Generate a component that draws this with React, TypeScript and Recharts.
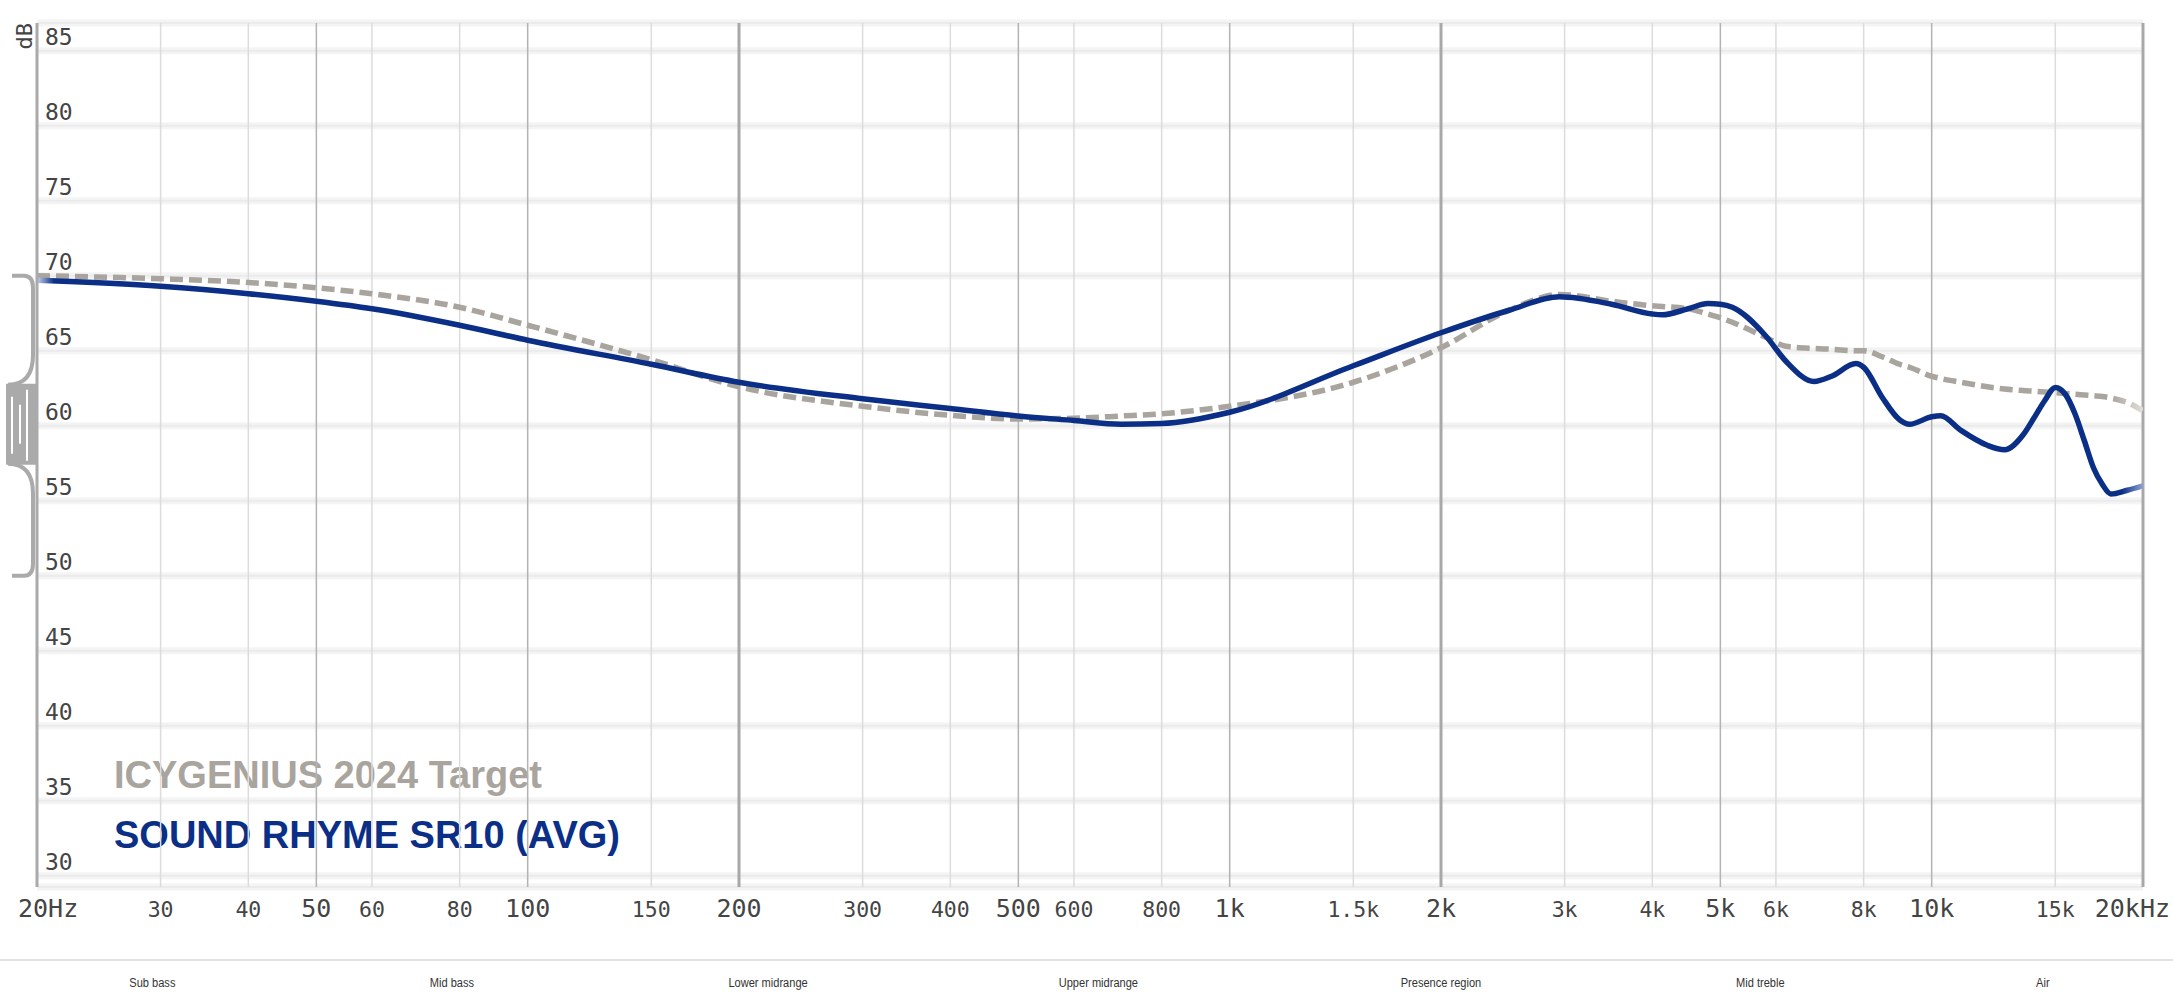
import { LineChart, Line, XAxis, YAxis, CartesianGrid, ReferenceLine, Customized } from "recharts";

const FREQS = [
  20, 30, 40, 50, 60, 80, 100, 150, 200, 300, 400, 500, 600, 700, 800, 1000, 1500, 2000, 2500, 2950, 3500, 4000,
  4130, 4500, 4800, 5000, 5200, 5800, 6200, 6800, 7200, 7800, 8000, 8500, 9000, 9300, 10000, 10300, 11000, 12000,
  12700, 13500, 14000, 14500, 15000, 15500, 16000, 16500, 17000, 17500, 18000, 19000, 20000,
];

const TARGET_DB = [
  70.0, 69.8, 69.55, 69.2, 68.8, 67.9, 66.7, 64.4, 62.6, 61.3, 60.7, 60.45, 60.5, 60.65, 60.8, 61.3, 62.9, 65.2, 67.7,
  68.75, 68.3, 68.0, 67.95, 67.8, 67.45, 67.2, 66.9, 65.9, 65.3, 65.15, 65.1, 65.0, 65.0, 64.6, 64.1, 63.9, 63.3,
  63.15, 62.9, 62.6, 62.45, 62.35, 62.3, 62.25, 62.2, 62.15, 62.1, 62.05, 62.0, 61.95, 61.85, 61.55, 61.0,
];

const SR10_DB = [
  69.7, 69.3, 68.8, 68.3, 67.8, 66.7, 65.7, 64.1, 62.9, 61.8, 61.15, 60.65, 60.35, 60.1, 60.15, 60.9, 64.0, 66.2, 67.7,
  68.6, 68.1, 67.45, 67.4, 67.8, 68.15, 68.1, 67.9, 66.0, 64.3, 62.95, 63.3, 64.15, 63.9, 61.9, 60.4, 60.1, 60.6,
  60.67, 59.7, 58.7, 58.4, 59.4, 60.55, 61.7, 62.55, 62.1, 60.8, 59.0, 57.2, 56.1, 55.45, 55.7, 56.0,
];

const SERIES_NAMES = ["ICYGENIUS 2024 Target", "SOUND RHYME SR10 (AVG)"];

const X_TICKS = [
  20, 30, 40, 50, 60, 80, 100, 150, 200, 300, 400, 500, 600, 800, 1000, 1500, 2000, 3000, 4000, 5000, 6000, 8000,
  10000, 15000, 20000,
];
const X_TICK_LABELS = [
  "20Hz", "30", "40", "50", "60", "80", "100", "150", "200", "300", "400", "500", "600", "800", "1k", "1.5k", "2k",
  "3k", "4k", "5k", "6k", "8k", "10k", "15k", "20kHz",
];
const BIG_TICKS = [20, 50, 100, 200, 500, 1000, 2000, 5000, 10000, 20000];
const DECADE_TICKS = [200, 2000, 20000];

const Y_TICKS = [30, 35, 40, 45, 50, 55, 60, 65, 70, 75, 80, 85];

const BANDS = ["Sub bass", "Mid bass", "Lower midrange", "Upper midrange", "Presence region", "Mid treble", "Air"];
const BAND_CENTERS = [29.2, 78, 220, 650, 2000, 5700, 14400];

const data = FREQS.map((f, i) => ({ f, target: TARGET_DB[i], sr10: SR10_DB[i] }));

const W = 2173;
const H = 999;
const TOP = 23;
const LEFT = 37;
const RIGHT = 2143;
const BOTTOM = 887;
const Y_MIN = 29.25;
const Y_MAX = 86.85;
const PX_PER_DB = (BOTTOM - TOP) / (Y_MAX - Y_MIN);

const BLUE = "#0b2f87";
const GRAY = "#a9a49d";
const MONO = "'DejaVu Sans Mono', monospace";
const SANS = "'Liberation Sans', Arial, sans-serif";

const yOf = (db: number) => TOP + (Y_MAX - db) * PX_PER_DB;

function XTick(props: any) {
  const { x, payload, index } = props;
  const v = payload.value;
  const label = X_TICK_LABELS[index] ?? String(v);
  const big = BIG_TICKS.includes(v);
  let anchor = "middle";
  let tx = x;
  if (index === 0) {
    anchor = "start";
    tx = x - 19;
  } else if (index === X_TICKS.length - 1) {
    anchor = "end";
    tx = x + 27;
  }
  return (
    <text x={tx} y={BOTTOM + 30} textAnchor={anchor} fontFamily={MONO} fontSize={big ? 25 : 21.5} fill="#444">
      {label}
    </text>
  );
}

function YTick(props: any) {
  const { y, payload } = props;
  return (
    <text x={LEFT + 8} y={y - 6} textAnchor="start" fontFamily={MONO} fontSize={23} fill="#444">
      {payload.value}
    </text>
  );
}

function BandLabel(props: any) {
  const { viewBox, value } = props;
  return (
    <text
      transform={`translate(${viewBox.x},987) scale(0.82,1)`}
      textAnchor="middle"
      fontFamily={SANS}
      fontSize={13.5}
      fill="#333"
    >
      {value}
    </text>
  );
}

function Decor() {
  const y70 = yOf(70);
  const y60 = yOf(60);
  const y50 = yOf(50);
  const blockTop = y60 - 41;
  const blockBottom = y60 + 38;
  return (
    <g>
      <line x1={0} y1={960} x2={W} y2={960} stroke="#e2e2e2" strokeWidth={2} />
      <text
        transform={`translate(32,${TOP}) rotate(-90)`}
        textAnchor="end"
        fontFamily={MONO}
        fontSize={22}
        fill="#444"
      >
        dB
      </text>
      {/* normalisation bracket */}
      <g fill="none" stroke="#aaa" strokeWidth={4}>
        <path d={`M 12 ${y70} L 24 ${y70} Q 33 ${y70} 33 ${y70 + 12} L 33 ${blockTop - 30} Q 33 ${blockTop} 8 ${blockTop}`} />
        <path d={`M 8 ${blockBottom} Q 33 ${blockBottom} 33 ${blockBottom + 30} L 33 ${y50 - 12} Q 33 ${y50} 24 ${y50} L 12 ${y50}`} />
      </g>
      <rect x={6} y={blockTop - 1} width={31} height={blockBottom - blockTop + 2} fill="#aaa" />
      <line x1={12} y1={blockTop + 12} x2={12} y2={blockBottom - 10} stroke="#fff" strokeWidth={2} />
      <line x1={20} y1={blockTop + 20} x2={20} y2={blockBottom - 20} stroke="#fff" strokeWidth={2} />
      <line x1={27} y1={blockTop + 5} x2={27} y2={blockBottom - 3} stroke="#fff" strokeWidth={2} />
      <text x={114} y={788} fontFamily={SANS} fontWeight={700} fontSize={38} fill={GRAY}>
        {SERIES_NAMES[0]}
      </text>
      <text x={114} y={848} fontFamily={SANS} fontWeight={700} fontSize={38} fill={BLUE}>
        {SERIES_NAMES[1]}
      </text>
    </g>
  );
}

export default function App() {
  return (
    <div style={{ position: "absolute", left: 0, top: 0, width: W, height: H, background: "#fff" }}>
      <LineChart width={W} height={H} data={data} margin={{ top: TOP, right: W - RIGHT, left: 0, bottom: 0 }}>
        <defs>
          <linearGradient id="blueFade" gradientUnits="userSpaceOnUse" x1={LEFT} y1={0} x2={RIGHT} y2={0}>
            <stop offset="0" stopColor="#c9d3ec" />
            <stop offset="0.008" stopColor={BLUE} />
            <stop offset="0.99" stopColor={BLUE} />
            <stop offset="1" stopColor="#8fa2d4" />
          </linearGradient>
          <linearGradient id="grayFade" gradientUnits="userSpaceOnUse" x1={LEFT} y1={0} x2={RIGHT} y2={0}>
            <stop offset="0" stopColor={GRAY} />
            <stop offset="0.985" stopColor={GRAY} />
            <stop offset="1" stopColor="#e2dfdb" />
          </linearGradient>
        </defs>
        <CartesianGrid vertical={false} stroke="#f4f4f4" strokeWidth={7} />
        <CartesianGrid vertical={false} stroke="#ebebeb" strokeWidth={2} />
        {X_TICKS.slice(1).map((f) => {
          const decade = DECADE_TICKS.includes(f);
          const big = BIG_TICKS.includes(f);
          return (
            <ReferenceLine
              key={f}
              x={f}
              stroke={decade ? "#a8a8a8" : big ? "#b3b3b3" : "#dcdcdc"}
              strokeWidth={decade ? 3 : 1.5}
            />
          );
        })}
        {BAND_CENTERS.map((f, i) => (
          <ReferenceLine
            key={`band-${i}`}
            x={f}
            stroke="none"
            label={{ value: BANDS[i], content: <BandLabel /> }}
          />
        ))}
        <XAxis
          dataKey="f"
          type="number"
          scale="log"
          domain={[20, 20000]}
          ticks={X_TICKS}
          interval={0}
          allowDataOverflow
          axisLine={false}
          tickLine={false}
          height={H - BOTTOM}
          tick={<XTick />}
        />
        <YAxis
          type="number"
          domain={[Y_MIN, Y_MAX]}
          ticks={Y_TICKS}
          interval={0}
          allowDataOverflow
          width={LEFT}
          axisLine={{ stroke: "#aaa", strokeWidth: 3 }}
          tickLine={false}
          tick={<YTick />}
        />
        <Line
          type="monotone"
          dataKey="target"
          stroke="url(#grayFade)"
          strokeWidth={5.5}
          strokeDasharray="13 6"
          dot={false}
          activeDot={false}
          isAnimationActive={false}
        />
        <Line
          type="monotone"
          dataKey="sr10"
          stroke="url(#blueFade)"
          strokeWidth={5.5}
          dot={false}
          activeDot={false}
          isAnimationActive={false}
        />
        <Customized component={<Decor />} />
      </LineChart>
    </div>
  );
}
